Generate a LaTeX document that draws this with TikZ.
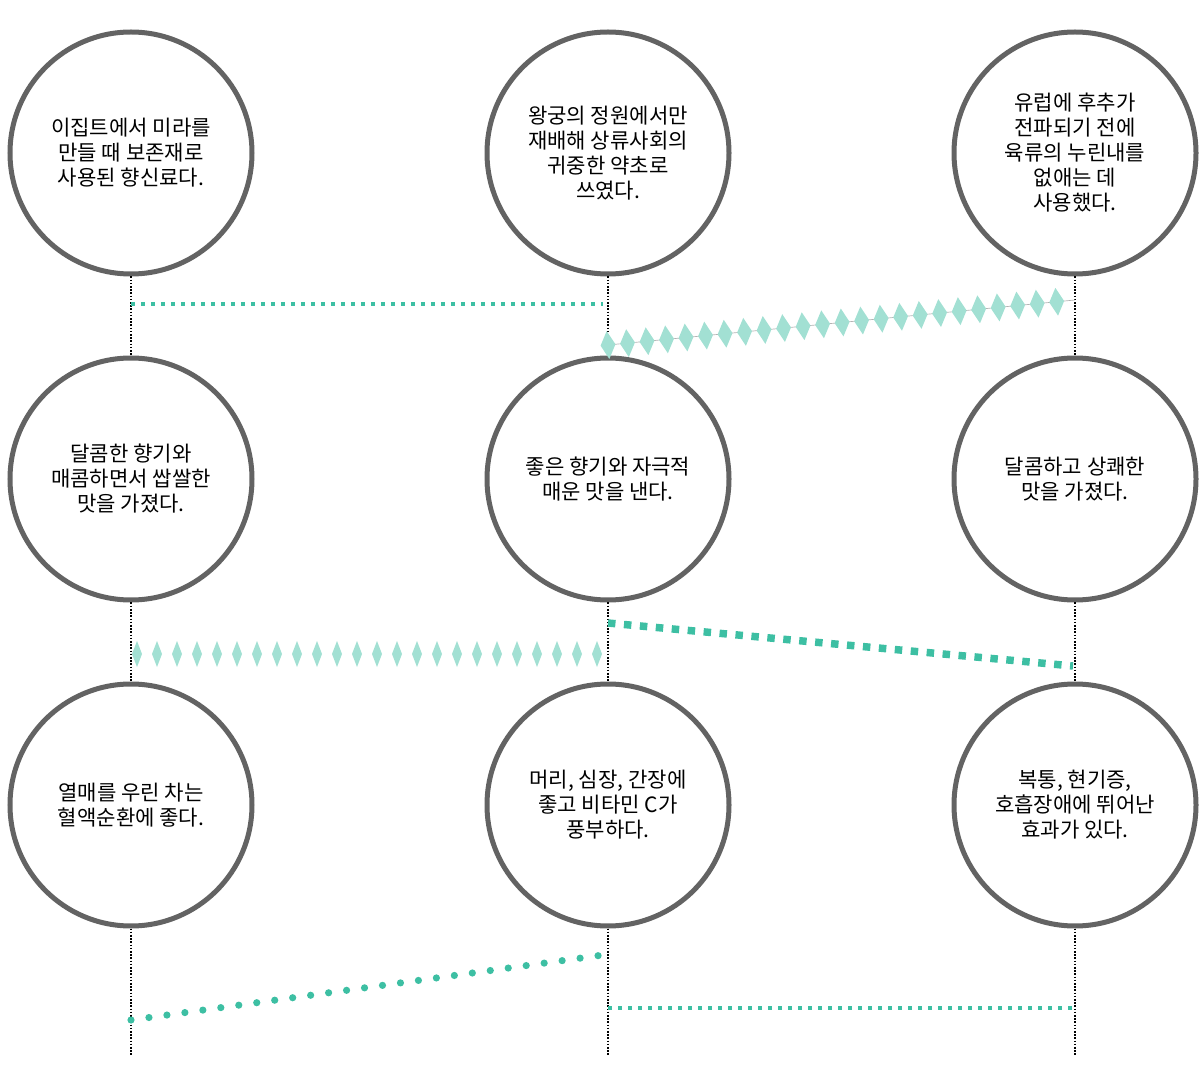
\documentclass[tikz,border=0pt]{standalone}
\usepackage{fontspec}
\setmainfont{Noto Sans CJK KR}
\usetikzlibrary{decorations.markings}
\definecolor{ringgray}{RGB}{99,99,99}
\definecolor{teal}{RGB}{61,191,163}
\definecolor{lightteal}{RGB}{162,224,211}
\begin{document}
\begin{tikzpicture}[x=0.75pt,y=-0.75pt,
  spot/.style={circle, draw=ringgray, line width=3.75pt, minimum size=181.5pt, inner sep=0pt,
    align=center, font=\fontsize{15.8pt}{18.75pt}\selectfont},
  guide/.style={black, dash pattern=on 1.2pt off 1.2pt, line width=1.3pt},
  sqline/.style={teal, line width=3.2pt, dash pattern=on 3.2pt off 4.3pt},
  bigsq/.style={teal, line width=5.6pt, dash pattern=on 5.6pt off 6.4pt},
  dotline/.style={teal, line width=5.4pt, line cap=round, dash pattern=on 0pt off 13.6pt},
  diamonds/.style n args={3}{postaction={decorate, decoration={markings,
    mark=between positions 0 and 1 step #1 with {\fill[lightteal] (0,#3)--(#2,0)--(0,-#3)--(-#2,0)--cycle;}}}}]
\useasboundingbox (0,0) rectangle (1204,1080);
% the nine circles
\node[spot] (r1a) at (131,153) {이집트에서 미라를\\만들 때 보존재로\\사용된 향신료다.};
\node[spot] (r1b) at (608,153) {왕궁의 정원에서만\\재배해 상류사회의\\귀중한 약초로\\쓰였다.};
\node[spot] (r1c) at (1075,153) {유럽에 후추가\\전파되기 전에\\육류의 누린내를\\없애는 데\\사용했다.};
\node[spot] (r2a) at (131,479) {달콤한 향기와\\매콤하면서 쌉쌀한\\맛을 가졌다.};
\node[spot] (r2b) at (608,479) {좋은 향기와 자극적\\매운 맛을 낸다.};
\node[spot] (r2c) at (1075,479) {달콤하고 상쾌한\\맛을 가졌다.};
\node[spot] (r3a) at (131,805) {열매를 우린 차는\\혈액순환에 좋다.};
\node[spot] (r3b) at (608,805) {머리, 심장, 간장에\\좋고 비타민 C가\\풍부하다.};
\node[spot] (r3c) at (1075,805) {복통, 현기증,\\호흡장애에 뛰어난\\효과가 있다.};
% guides
\foreach \c in {a,b,c} {
  \draw[guide] (r1\c.south) -- (r2\c.north);
  \draw[guide] (r2\c.south) -- (r3\c.north);
  \draw[guide] (r3\c.south) -- ++(0,126);
}
% ends of the links
\coordinate (p1) at (131,304); \coordinate (p2) at (603,304);
\coordinate (p3) at (608,345); \coordinate (p4) at (1075,300);
\coordinate (p5) at (137,654); \coordinate (p6) at (603,654);
\coordinate (p7) at (608,623); \coordinate (p8) at (1073,666);
\coordinate (p9) at (131,1020); \coordinate (p10) at (603,955);
\coordinate (p11) at (608,1008); \coordinate (p12) at (1072,1008);
% links
\draw[sqline] (p1) -- (p2);
\draw[gray!60, line width=0.5pt, diamonds={14.7pt}{5.6pt}{10.5pt}] (p3) -- (p4);
\path[diamonds={15pt}{3.75pt}{9.75pt}] (p5) -- (p6);
\draw[bigsq] (p7) -- (p8);
\draw[dotline] (p9) -- (p10);
\draw[sqline] (p11) -- (p12);
\end{tikzpicture}
\end{document}
